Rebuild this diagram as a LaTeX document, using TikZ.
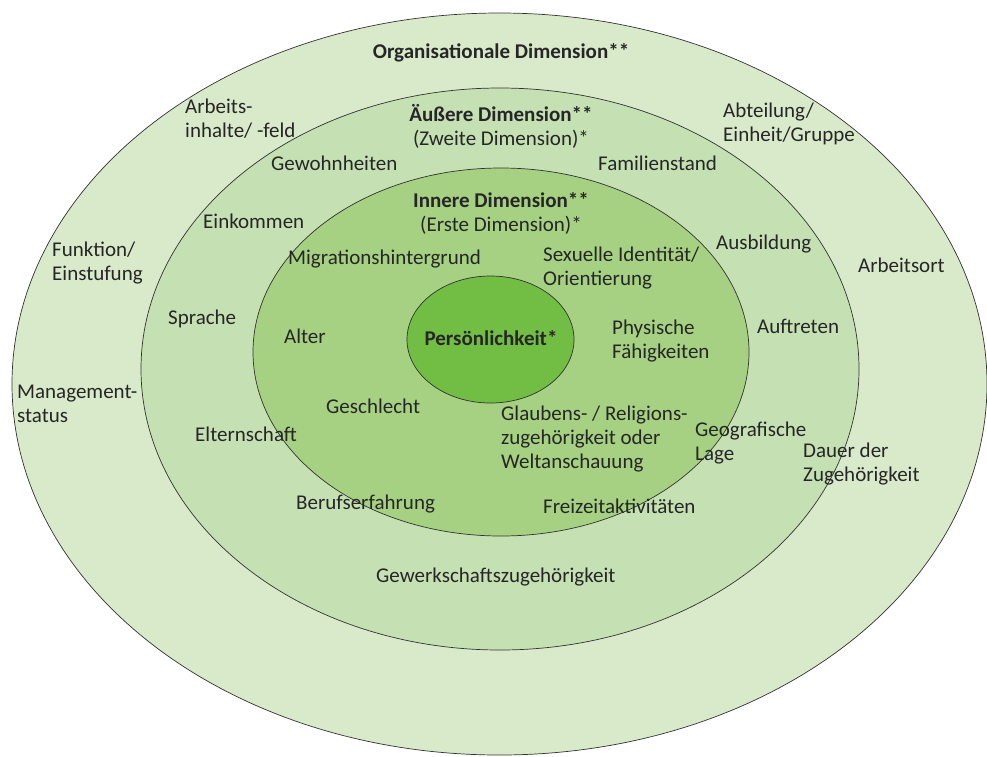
\documentclass[tikz,border=0pt]{standalone}
\usepackage{fontspec}
\setmainfont{Carlito}
\usepackage{tikz}
\usetikzlibrary{positioning}
\definecolor{orggreen}{RGB}{217,234,203}
\definecolor{outergreen}{RGB}{197,224,179}
\definecolor{innergreen}{RGB}{166,209,130}
\definecolor{coregreen}{RGB}{114,190,68}
\definecolor{rimgray}{RGB}{50,50,50}
\definecolor{textgray}{RGB}{38,38,38}
\tikzset{
  ring/.style={draw=rimgray,line width=0.7pt},
  itemlabel/.style={
    anchor=base west,
    align=left,
    inner sep=0pt,
    text=textgray,
    font=\fontsize{21}{24}\selectfont
  },
  dimtitle/.style={itemlabel,anchor=base,align=center},
}

\begin{document}
\begin{tikzpicture}[x=1pt,y=-1pt]
  \useasboundingbox (0,0) rectangle (987,756);

  % Rings, outside in
  \filldraw[ring,fill=orggreen] (499.5,384) ellipse [x radius=487.5pt,y radius=371pt];
  \filldraw[ring,fill=outergreen] (500,369) ellipse [x radius=359pt,y radius=281pt];
  \filldraw[ring,fill=innergreen] (501,352) ellipse [x radius=248pt,y radius=184pt];
  \filldraw[ring,fill=coregreen] (490.5,339.5) ellipse [x radius=83.5pt,y radius=63.5pt];

  % Titles (base = last line)
  \node[dimtitle] (orgtitle) at (501,58) {\textbf{Organisationale Dimension**}};
  \node[dimtitle] (outertitle) at (501,145) {\textbf{Äußere Dimension**}\\(Zweite Dimension)*};
  \node[dimtitle] (innertitle) at (501,231) {\textbf{Innere Dimension**}\\(Erste Dimension)*};
  \node[dimtitle] (core) at (491,345) {\textbf{Persönlichkeit*}};

  % Organisational ring
  \node[itemlabel] (arbeit) at (185,137) {Arbeits-\\inhalte/ -feld};
  \node[itemlabel] (abteilung) at (723,141) {Abteilung/\\Einheit/Gruppe};
  \node[itemlabel] (funktion) at (52,280) {Funktion/\\Einstufung};
  \node[itemlabel] (arbeitsort) at (858,272) {Arbeitsort};
  \node[itemlabel] (management) at (17,422) {Management-\\status};
  \node[itemlabel] (dauer) at (803,481) {Dauer der\\Zugehörigkeit};
  \node[itemlabel] (gewerkschaft) at (376,582) {Gewerkschaftszugehörigkeit};

  % Outer ring
  \node[itemlabel] (gewohnheiten) at (271,170) {Gewohnheiten};
  \node[itemlabel] (familienstand) at (598,170) {Familienstand};
  \node[itemlabel] (einkommen) at (203,228) {Einkommen};
  \node[itemlabel] (ausbildung) at (716,249) {Ausbildung};
  \node[itemlabel] (sprache) at (168,324) {Sprache};
  \node[itemlabel] (auftreten) at (757,333) {Auftreten};
  \node[itemlabel] (geografie) at (695,460) {Geografische\\Lage};
  \node[itemlabel] (elternschaft) at (195,441) {Elternschaft};
  \node[itemlabel] (beruf) at (296,509) {Berufserfahrung};
  \node[itemlabel] (freizeit) at (543,513) {Freizeitaktivitäten};

  % Inner ring
  \node[itemlabel] (migration) at (288,264) {Migrationshintergrund};
  \node[itemlabel] (identitaet) at (543,285) {Sexuelle Identität/\\Orientierung};
  \node[itemlabel] (alter) at (284,343) {Alter};
  \node[itemlabel] (physisch) at (612,358) {Physische\\Fähigkeiten};
  \node[itemlabel] (geschlecht) at (326,413) {Geschlecht};
  \node[itemlabel] (glauben) at (501,468) {Glaubens- / Religions-\\zugehörigkeit oder\\Weltanschauung};
\end{tikzpicture}
\end{document}
